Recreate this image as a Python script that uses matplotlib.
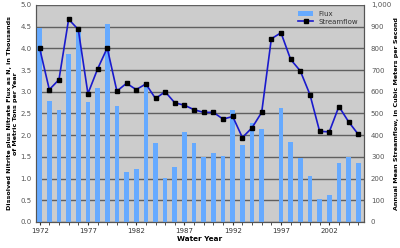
import numpy as np
import matplotlib.pyplot as plt

years = list(range(1972, 2006))
flux = [4.47, 2.78, 2.59, 3.87, 4.42, 2.77, 3.09, 4.56, 2.68, 1.16, 1.23, 3.15,
        1.81, 1.02, 1.26, 2.08, 1.81, 1.50, 1.59, 1.51, 2.59, 1.78, 2.28, 2.14,
        0.0, 2.62, 1.84, 1.47, 1.05, 0.54, 0.63, 1.35, 1.50, 1.37]
streamflow = [800, 610, 656, 934, 887, 591, 705, 802, 603, 639, 610, 636,
              569, 600, 549, 538, 517, 505, 505, 474, 486, 389, 434, 505,
              844, 872, 749, 696, 587, 418, 415, 532, 462, 404]
flux_ticks = np.arange(0, 5.01, 0.5)
flow_ticks = np.arange(0, 1001, 100)
flow_labels = ["0", "100", "200", "300", "400", "500", "600", "700", "800", "900", "1,000"]
year_ticks = [1972, 1977, 1982, 1987, 1992, 1997, 2002]

bar_color = "#66aaff"
line_color = "#1a1acc"

fig = plt.figure(figsize=(4, 2.48), dpi=100)
ax = fig.add_axes([0.09, 0.105, 0.82, 0.875])
ax.set_facecolor("#cccccc")

yrs = np.array(years)
flux_arr = np.array(flux)
mask = flux_arr > 0
ax.bar(yrs[mask], flux_arr[mask], width=0.48, color=bar_color, label="Flux", zorder=3)
ax.set_ylim(0, 5)
ax.set_xlim(1971.62, 2005.6)
ax.set_yticks(flux_ticks)
ax.set_yticklabels(["%.1f" % t for t in flux_ticks])
ax.grid(axis="y", color="#606060", linewidth=1.0, zorder=1)
ax.set_axisbelow(True)

ax2 = ax.twinx()
ax2.plot(years, streamflow, color=line_color, linewidth=1.2, marker="s", markersize=3,
         markerfacecolor="black", markeredgecolor="black", label="Streamflow", zorder=4)
ax2.set_ylim(0, 1000)
ax2.set_yticks(flow_ticks)
ax2.set_yticklabels(flow_labels)

ax.set_xticks(year_ticks)
ax.set_xticks(years, minor=True)
ax.tick_params(axis="x", which="both", length=2, labelsize=5, colors="#333333", pad=2)
ax.tick_params(axis="y", length=0, labelsize=5, colors="#555555", pad=3)
ax2.tick_params(axis="y", length=0, labelsize=5, colors="#555555", pad=5)

for a in (ax, ax2):
    a.spines["top"].set_visible(False)
    a.spines["left"].set_color("#555555")
    a.spines["right"].set_color("#555555")
    a.spines["bottom"].set_color("#555555")

ax.set_xlabel("Water Year", fontsize=5.2, fontweight="bold", labelpad=2)
ax.set_ylabel("Dissolved Nitrite plus Nitrate Flux as N, in Thousands\nof Metric Tons per Year",
              fontsize=4.6, fontweight="bold", labelpad=2, linespacing=1.3)
ax2.set_ylabel("Annual Mean Streamflow, in Cubic Meters per Second",
               fontsize=4.6, fontweight="bold", labelpad=2)

h1, l1 = ax.get_legend_handles_labels()
h2, l2 = ax2.get_legend_handles_labels()
leg = ax2.legend(h1 + h2, l1 + l2, loc="upper right", fontsize=5, frameon=False,
                 handlelength=2.2, borderaxespad=0.4, labelspacing=0.3)
for t in leg.get_texts():
    t.set_color("#333333")

fig.savefig("out.png", dpi=100)
